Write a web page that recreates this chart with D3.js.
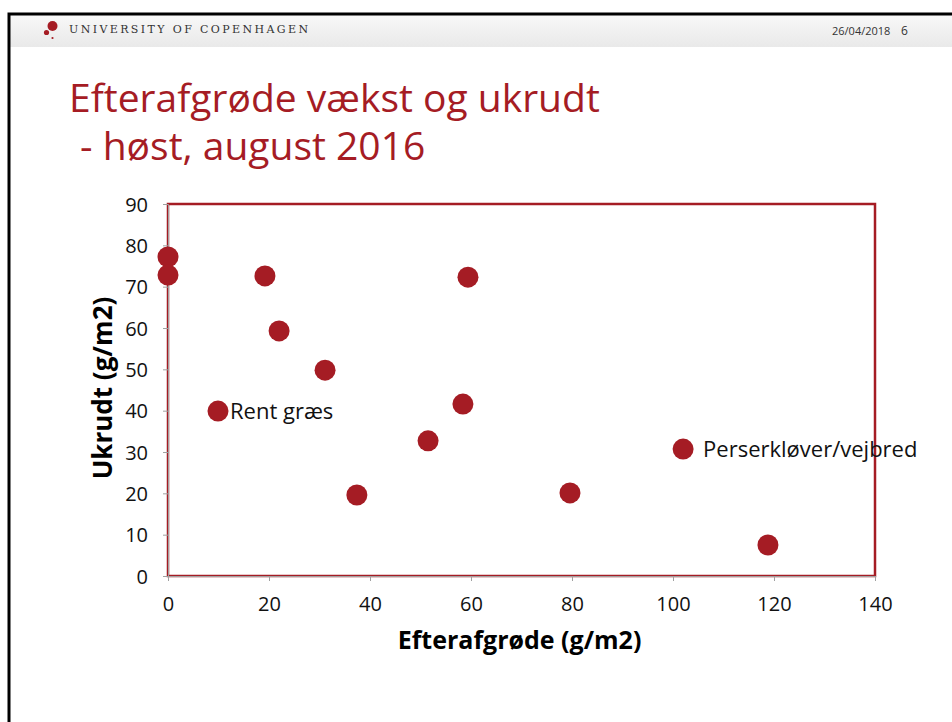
<!DOCTYPE html>
<html>
<head>
<meta charset="utf-8">
<script src="https://cdn.jsdelivr.net/npm/d3@7/dist/d3.min.js"></script>
<style>
  body { margin: 0; background: #fff; }
  svg { display: block; font-family: "Open Sans", "Noto Sans", sans-serif; }
  .tick text { font-size: 20px; fill: #111; }
</style>
</head>
<body>
<svg width="952" height="722"></svg>
<script>
// Data
var xVals = [0, 0, 19.2, 59.4, 22, 31.1, 9.9, 58.4, 51.5, 37.4, 79.6, 102, 118.8];
var yVals = [77.2, 72.8, 72.6, 72.3, 59.3, 49.8, 39.9, 41.6, 32.7, 19.6, 20.1, 30.7, 7.5];
var pointLabels = ["", "", "", "", "", "", "Rent græs", "", "", "", "", "Perserkløver/vejbred", ""];
var xTicks = [0, 20, 40, 60, 80, 100, 120, 140];
var yTicks = [0, 10, 20, 30, 40, 50, 60, 70, 80, 90];

var red = "#a51c24";
var svg = d3.select("svg"),
    margin = {top: 204, right: 77, bottom: 146, left: 168},
    width = +svg.attr("width") - margin.left - margin.right,
    height = +svg.attr("height") - margin.top - margin.bottom;

// Slide header band
var defs = svg.append("defs");
var grad = defs.append("linearGradient").attr("id", "hdr").attr("x1", 0).attr("y1", 0).attr("x2", 0).attr("y2", 1);
grad.append("stop").attr("offset", "0%").attr("stop-color", "#f9f9f9");
grad.append("stop").attr("offset", "100%").attr("stop-color", "#e9e9e9");
svg.append("rect").attr("x", 8).attr("y", 13).attr("width", 950).attr("height", 34).attr("fill", "url(#hdr)");
svg.append("path").attr("d", "M9,730V14H960").attr("fill", "none").attr("stroke", "#000").attr("stroke-width", 3);

// logo dots
svg.append("circle").attr("cx", 52.5).attr("cy", 26).attr("r", 5).attr("fill", red);
svg.append("circle").attr("cx", 46.5).attr("cy", 32.5).attr("r", 2.6).attr("fill", red);
svg.append("circle").attr("cx", 52.5).attr("cy", 38).attr("r", 1.1).attr("fill", red);
svg.append("text").attr("x", 69).attr("y", 33)
  .style("font-family", "'DejaVu Serif', 'Liberation Serif', serif").style("font-size", "11px")
  .attr("fill", "#333")
  .attr("textLength", 239).attr("lengthAdjust", "spacing")
  .text("UNIVERSITY OF COPENHAGEN");
svg.append("text").attr("x", 832).attr("y", 35).style("font-size", "11px").attr("fill", "#333")
  .text("26/04/2018");
svg.append("text").attr("x", 901).attr("y", 35).style("font-size", "12px").attr("fill", "#333")
  .text("6");

// Title
svg.append("text").attr("x", 69).attr("y", 112).attr("fill", red).style("font-size", "39px")
  .text("Efterafgrøde vækst og ukrudt");
svg.append("text").attr("x", 80).attr("y", 160).attr("fill", red).style("font-size", "39px")
  .text("- høst, august 2016");

var g = svg.append("g").attr("transform", "translate(" + margin.left + "," + margin.top + ")");
var x = d3.scaleLinear().domain([0, 140]).range([0, width]),
    y = d3.scaleLinear().domain([0, 90]).range([height, 0]);

// Plot frame
g.append("rect").attr("width", width).attr("height", height)
  .attr("fill", "none").attr("stroke", red).attr("stroke-width", 2.5);

// Axes
var xAxis = g.append("g").attr("transform", "translate(0," + height + ")")
  .call(d3.axisBottom(x).tickValues(xTicks).tickSize(5).tickPadding(16));
var yAxis = g.append("g")
  .call(d3.axisLeft(y).tickValues(yTicks).tickSize(5).tickPadding(15));
[xAxis, yAxis].forEach(function(a) {
  a.attr("font-family", null).attr("font-size", null);
  a.select(".domain").attr("stroke", "#a0a0a0").attr("stroke-width", 1);
  a.selectAll(".tick line").attr("stroke", "#a0a0a0");
});
yAxis.selectAll(".tick text").attr("dy", "0.35em");

// Axis titles
g.append("text").attr("x", width / 2 - 2).attr("y", height + 73)
  .attr("text-anchor", "middle").style("font-size", "25px").style("font-weight", "bold")
  .text("Efterafgrøde (g/m2)");
g.append("text").attr("transform", "translate(-56," + (height / 2 - 2) + ") rotate(-90)")
  .attr("text-anchor", "middle").style("font-size", "26px").style("font-weight", "bold")
  .text("Ukrudt (g/m2)");

// Points
var pts = xVals.map(function(v, i) { return {x: v, y: yVals[i], label: pointLabels[i]}; });
g.selectAll(".dot").data(pts).enter().append("circle")
  .attr("class", "dot")
  .attr("cx", function(d) { return x(d.x); })
  .attr("cy", function(d) { return y(d.y); })
  .attr("r", 10.5)
  .attr("fill", red);

g.selectAll(".lbl").data(pts.filter(function(d) { return d.label; })).enter().append("text")
  .attr("class", "lbl")
  .attr("x", function(d) { return x(d.x) + (d.x > 100 ? 20 : 12); })
  .attr("y", function(d) { return y(d.y); })
  .attr("dy", "0.35em")
  .style("font-size", "22px").attr("fill", "#111")
  .text(function(d) { return d.label; });
</script>
</body>
</html>
